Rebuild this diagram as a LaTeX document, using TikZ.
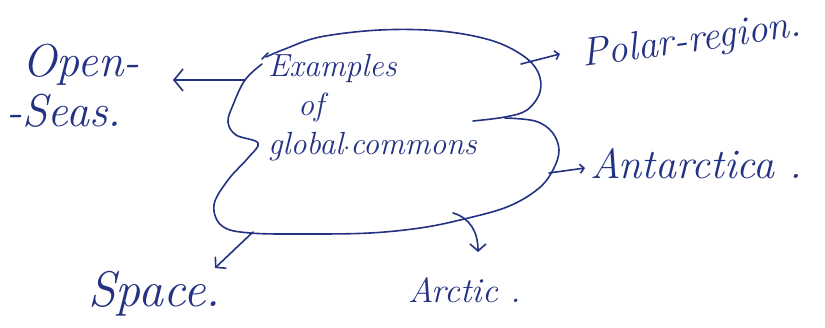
\documentclass[tikz,border=0pt]{standalone}
\usepackage{fontspec}
\usetikzlibrary{arrows.meta}
\definecolor{ink}{RGB}{35,50,130}
\begin{document}
\begin{tikzpicture}[x=1pt,y=-1pt,
  hand/.style={text=ink, inner sep=0pt},
  inkline/.style={draw=ink, line width=1.6pt, line cap=round, line join=round},
  bigbarb/.style={inkline, -{Straight Barb[length=9pt,width=22pt,line width=1.6pt]}},
  midbarb/.style={inkline, -{Straight Barb[length=7pt,width=16pt,line width=1.6pt]}},
  smallbarb/.style={inkline, -{Straight Barb[length=4pt,width=9pt,line width=1.6pt]}}]
\useasboundingbox (0,0) rectangle (825,328);
\fill[white] (0,0) rectangle (825,328);
% labels
\node[hand, font=\fontsize{32}{39}\selectfont\itshape, align=left, anchor=north west] (centre) at (268,54) {Examples\\\hspace*{30pt}of\\global$\cdot$commons};
\node[hand, font=\fontsize{46}{50}\selectfont\itshape, align=left, anchor=north west] (open) at (6,44) {\hspace*{16pt}Open-\\-Seas.};
\node[hand, font=\fontsize{40}{44}\selectfont\itshape, rotate=8, anchor=base west] (polar) at (583,67) {Polar-region.};
\node[hand, font=\fontsize{42}{46}\selectfont\itshape, anchor=base west] (antarctica) at (590,179) {Antarctica .};
\node[hand, font=\fontsize{50}{54}\selectfont\itshape, anchor=base west] (space) at (88,307) {Space.};
\node[hand, font=\fontsize{35}{40}\selectfont\itshape, anchor=base west] (arctic) at (408,303) {Arctic .};
% enclosing curve
\draw[inkline] plot[smooth, tension=0.6] coordinates {(473,121) (505,117) (527,110) (540,92) (538,72) (522,55) (490,40) (440,31) (380,30) (320,37) (285,49) (266,57)};
\draw[inkline] (262,59) -- (268,53);
\draw[inkline] plot[smooth, tension=0.6] coordinates {(262,64) (245,80) (233,105) (228,122) (236,135) (258,143) (248,158) (228,180) (214,205) (222,226) (250,233) (310,234) (370,233) (420,228) (460,220) (507,207) (538,189) (553,170) (559,150) (552,132) (535,121) (505,118)};
% arrow coordinates
\coordinate (tOpen) at (245,80);
\coordinate (hOpen) at (173,80);
\coordinate (tPolar) at (521,64);
\coordinate (hPolar) at (560,54);
\coordinate (tAnt) at (549,173);
\coordinate (hAnt) at (585,168);
\coordinate (tArc) at (453,213);
\coordinate (hArc) at (478,252);
\coordinate (tSpace) at (253,232);
\coordinate (hSpace) at (215,268);
\draw[bigbarb] (tOpen) -- (hOpen);
\draw[smallbarb] (tPolar) -- (hPolar);
\draw[smallbarb] (tAnt) -- (hAnt);
\draw[midbarb] (tArc) .. controls (470,218) and (478,232) .. (hArc);
\draw[midbarb] (tSpace) -- (hSpace);
\end{tikzpicture}
\end{document}
